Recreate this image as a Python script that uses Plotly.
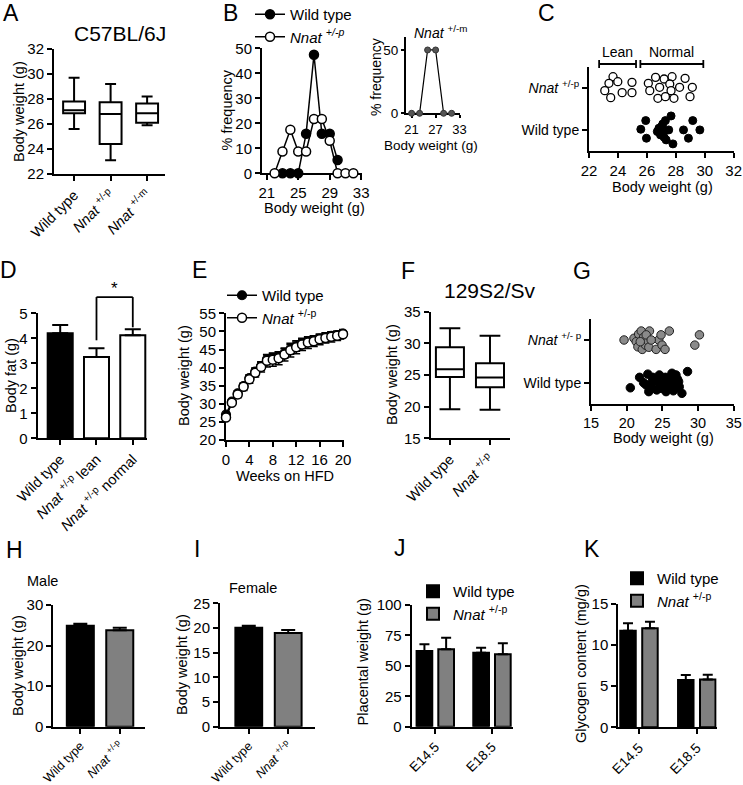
import plotly.graph_objects as go

W, H = 743, 785
FONT = "Arial, Liberation Sans, sans-serif"
NN = "<i>Nnat</i> <sup>+/-p</sup>"

# ---------------- data ----------------
# A: C57BL/6J body weight box plots
a_labels = ["Wild type", NN, "<i>Nnat</i> <sup>+/-m</sup>"]
a_lower = [25.6, 23.1, 25.9]
a_q1 = [26.85, 24.4, 26.1]
a_median = [27.1, 26.8, 26.85]
a_q3 = [27.8, 27.75, 27.65]
a_upper = [29.7, 29.2, 28.2]

# B: frequency distributions
b_bins_wt = [23, 24, 25, 26, 27, 28, 29, 30]
b_freq_wt = [0, 0, 0, 15.8, 47.4, 15.8, 15.8, 5.3]
b_bins_pat = [22, 23, 24, 25, 26, 27, 28, 29, 30, 31, 32]
b_freq_pat = [0, 8.7, 17.4, 8.7, 8.7, 21.7, 21.7, 13.0, 0, 0, 0]
b_bins_mat = [21, 23, 25, 27, 29, 31]
b_freq_mat = [0, 0, 50, 50, 0, 0]

# C: individual body weights (x) with jitter rows (y)
c_pat_w = [23.66, 23.38, 23.99, 24.97, 23.09, 24.29, 24.97, 23.50,
           26.10, 26.60, 27.19, 27.74, 28.64, 27.58, 26.20, 26.88, 27.67,
           28.26, 29.14, 26.76, 27.28, 27.87, 28.98]
c_pat_row = [1.28, 1.12, 1.16, 1.144, 0.944, 0.896, 0.896, 0.776,
             1.12, 1.264, 1.224, 1.28, 1.24, 1.104, 0.944, 1.024, 0.944,
             1.024, 1.024, 0.76, 0.80, 0.76, 0.80]
c_wt_w = [25.92, 25.58, 25.97, 27.67, 27.28, 27.10, 26.83, 26.72, 26.94, 27.19,
          27.51, 27.33, 27.80, 28.53, 28.87, 29.17, 29.66, 27.01, 27.10]
c_wt_row = [0.224, 0.016, -0.2, 0.336, 0.224, 0.144, 0.04, -0.04, -0.12, -0.176,
            0.0, -0.24, -0.336, 0.0, -0.2, 0.224, 0.0, 0.08, -0.08]
c_lean_range = [22.7, 25.25]
c_normal_range = [25.55, 29.9]

# D: body fat
d_labels = ["Wild type", NN + " lean", NN + " normal"]
d_mean = [4.2, 3.25, 4.12]
d_sem = [0.33, 0.35, 0.24]

# E: weight gain on HFD
e_weeks = list(range(21))
e_wt = [27.0, 30.6, 32.9, 34.9, 37.1, 38.9, 40.4, 42.3, 42.6, 43.0, 43.9,
        45.0, 45.8, 46.6, 47.1, 47.6, 48.0, 48.4, 48.8, 49.0, 49.4]
e_wt_sem = [0.5, 0.6, 0.7, 0.8, 0.9, 1.0, 1.1, 1.2, 1.3, 1.3, 1.3,
            1.3, 1.3, 1.2, 1.2, 1.2, 1.1, 1.1, 1.1, 1.0, 1.0]
e_pat = [26.2, 30.3, 32.6, 34.7, 36.8, 38.6, 40.2, 41.9, 42.2, 42.6, 43.6,
         44.8, 45.6, 46.4, 46.9, 47.3, 47.8, 48.2, 48.5, 48.8, 49.2]
e_pat_sem = [0.6, 0.7, 0.9, 1.0, 1.1, 1.2, 1.4, 1.7, 1.8, 1.8, 1.8,
             1.9, 1.8, 1.7, 1.6, 1.5, 1.5, 1.4, 1.4, 1.3, 1.3]

# F: 129S2/Sv box plots
f_labels = ["Wild type", NN]
f_lower = [19.6, 19.5]
f_q1 = [24.7, 23.05]
f_median = [25.9, 24.6]
f_q3 = [29.4, 26.85]
f_upper = [32.4, 31.2]

# G: individual weights, 129S2/Sv
g_pat_w = [19.63, 21.02, 21.34, 21.57, 21.67, 22.04, 22.18, 22.36, 22.64, 22.96,
           23.10, 23.19, 21.90, 24.12, 24.49, 24.81, 24.95, 25.37, 25.97, 29.54,
           30.19, 22.73, 23.43]
g_pat_row = [1.0, 1.04, 0.96, 0.84, 1.14, 1.21, 0.78, 1.06, 0.88, 0.98,
             0.83, 1.21, 0.96, 0.78, 1.0, 1.12, 0.88, 0.78, 1.21, 0.88,
             1.12, 1.12, 1.0]
g_wt_w = [20.51, 21.81, 22.36, 22.96, 23.10, 22.73, 23.43, 23.89, 24.21, 24.58,
          25.05, 25.42, 25.74, 25.97, 26.20, 26.53, 26.67, 26.90, 27.13, 27.36,
          27.73, 28.52, 23.56, 24.49, 25.51, 26.34, 26.81, 27.27, 23.66, 24.81]
g_wt_row = [-0.12, 0.125, 0.0, 0.2, -0.21, -0.055, -0.094, 0.078, -0.17, 0.18,
            -0.03, 0.125, -0.094, 0.023, 0.14, -0.19, -0.03, 0.18, 0.078, -0.094,
            -0.25, 0.26, 0.023, 0.0, -0.21, 0.22, -0.13, 0.023, 0.125, -0.13]

# H / I: adult body weight
hi_labels = ["Wild type", NN]
h_mean = [24.9, 23.8]
h_sem = [0.5, 0.6]
i_mean = [20.05, 19.0]
i_sem = [0.4, 0.6]

# J / K: placenta
jk_labels = ["E14.5", "E18.5"]
j_wt = [62.2, 60.8]
j_wt_sem = [5.5, 4.1]
j_pat = [63.6, 59.5]
j_pat_sem = [9.5, 9.0]
k_wt = [11.75, 5.75]
k_wt_sem = [0.9, 0.6]
k_pat = [12.05, 5.8]
k_pat_sem = [0.8, 0.6]

# ---------------- layout geometry (pixels) ----------------
P = {
    'A':  dict(i=1,  x0=54,    x1=165,   y0=49,    y1=174,   xr=[-0.55, 2.49],  yr=[22, 32]),
    'B':  dict(i=2,  x0=262,   x1=362,   y0=48.3,  y1=173.3, xr=[20.4, 33.1],   yr=[0, 50]),
    'Bi': dict(i=3,  x0=406,   x1=460,   y0=37.3,  y1=113.3, xr=[19.6, 33.1],   yr=[0, 60]),
    'C':  dict(i=4,  x0=589,   x1=734,   y0=66.7,  y1=150.7, xr=[22, 32.02],    yr=[-0.5, 1.52]),
    'D':  dict(i=5,  x0=37.7,  x1=147.3, y0=313.3, y1=438.3, xr=[-0.62, 2.4],   yr=[0, 5]),
    'E':  dict(i=6,  x0=226,   x1=344,   y0=313.3, y1=440,   xr=[0, 20.17],     yr=[20, 55]),
    'F':  dict(i=7,  x0=430.7, x1=510,   y0=311.7, y1=438.3, xr=[-0.48, 1.5],   yr=[15, 35]),
    'G':  dict(i=8,  x0=591,   x1=734,   y0=319.3, y1=404,   xr=[15, 35.03],    yr=[-0.5, 1.485]),
    'H':  dict(i=9,  x0=53.3,  x1=145,   y0=605,   y1=726.7, xr=[-0.685, 1.64], yr=[0, 30]),
    'I':  dict(i=10, x0=220,   x1=315,   y0=603.3, y1=726.7, xr=[-0.73, 1.68],  yr=[0, 25]),
    'J':  dict(i=11, x0=411.7, x1=513.3, y0=605,   y1=726.7, xr=[-0.416, 1.376], yr=[0, 100]),
    'K':  dict(i=12, x0=618.3, x1=716.7, y0=604,   y1=727.3, xr=[-0.358, 1.345], yr=[0, 15]),
}


def refs(k):
    i = P[k]['i']
    s = '' if i == 1 else str(i)
    return 'xaxis' + s, 'yaxis' + s, 'x' + s, 'y' + s


def dx(k, v):
    p = P[k]
    r = p['xr']
    return p['x0'] + (v - r[0]) / (r[1] - r[0]) * (p['x1'] - p['x0'])


def dy(k, v):
    p = P[k]
    r = p['yr']
    return p['y1'] - (v - r[0]) / (r[1] - r[0]) * (p['y1'] - p['y0'])


def tf(size):
    return dict(family=FONT, size=size, color='black')


AX = dict(showline=True, linecolor='black', linewidth=2, ticks='outside', ticklen=5,
          tickwidth=2, tickcolor='black', showgrid=False, zeroline=False, automargin=False,
          ticklabeloverflow='allow', tickfont=tf(15))

cat3 = dict(tickmode='array', tickvals=[0, 1, 2], tickangle=-45)
cat2 = dict(tickmode='array', tickvals=[0, 1], tickangle=-45)
xkw = {
    'A': dict(cat3, ticktext=a_labels, tickfont=tf(14.5)),
    'B': dict(tickmode='array', tickvals=[21, 25, 29, 33], layer='below traces'),
    'Bi': dict(tickmode='array', tickvals=[21, 27, 33], layer='below traces',
               ticklen=3, tickfont=tf(13)),
    'C': dict(dtick=2, tick0=22),
    'D': dict(cat3, ticktext=d_labels, tickfont=tf(14.5)),
    'E': dict(dtick=4, tick0=0, layer='below traces'),
    'F': dict(cat2, ticktext=f_labels, tickfont=tf(14.5)),
    'G': dict(dtick=5, tick0=15, tickfont=tf(14.5)),
    'H': dict(cat2, ticktext=hi_labels, tickfont=tf(12.5)),
    'I': dict(cat2, ticktext=hi_labels, tickfont=tf(12.5)),
    'J': dict(cat2, ticktext=jk_labels, tickfont=tf(13.5)),
    'K': dict(cat2, ticktext=jk_labels, tickfont=tf(14)),
}
ykw = {
    'A': dict(dtick=2, tick0=22),
    'B': dict(dtick=10, tick0=0, layer='below traces'),
    'Bi': dict(tickmode='array', tickvals=[0, 50], layer='below traces',
               ticklen=3, tickfont=tf(13.5)),
    'C': dict(tickmode='array', tickvals=[0, 1], ticktext=['Wild type', NN], tickfont=tf(14)),
    'D': dict(dtick=1, tick0=0),
    'E': dict(dtick=5, tick0=20, layer='below traces'),
    'F': dict(dtick=5, tick0=15),
    'G': dict(tickmode='array', tickvals=[0, 1],
              ticktext=['Wild type', '<i>Nnat</i> <sup>+/- p</sup>'], tickfont=tf(14)),
    'H': dict(dtick=10, tick0=0),
    'I': dict(dtick=5, tick0=0),
    'J': dict(dtick=25, tick0=0),
    'K': dict(dtick=5, tick0=0),
}

layout = dict(width=W, height=H, margin=dict(l=0, r=0, t=0, b=0, pad=0, autoexpand=False),
              autosize=False, paper_bgcolor='white', plot_bgcolor='white', barmode='overlay',
              font=dict(family=FONT, size=15, color='black'))
for k, p in P.items():
    xa, ya, xr, yr = refs(k)
    layout[xa] = {**AX, **xkw[k], 'domain': [p['x0'] / W, p['x1'] / W],
                  'range': p['xr'], 'anchor': yr}
    layout[ya] = {**AX, **ykw[k], 'domain': [1 - p['y1'] / H, 1 - p['y0'] / H],
                  'range': p['yr'], 'anchor': xr}

fig = go.Figure()


def on(k):
    _, _, xr, yr = refs(k)
    return dict(xaxis=xr, yaxis=yr)


BLK = dict(color='black', width=2)

# A boxes
fig.add_trace(go.Box(x=[0, 1, 2], q1=a_q1, median=a_median, q3=a_q3,
                     lowerfence=a_lower, upperfence=a_upper, width=0.6, whiskerwidth=0.5,
                     fillcolor='white', line=BLK, boxpoints=False, showlegend=False,
                     hoverinfo='skip', **on('A')))

# B histograms
fig.add_trace(go.Scatter(x=b_bins_wt, y=b_freq_wt, mode='lines+markers', name='Wild type',
                         line=dict(color='black', width=1.5),
                         marker=dict(size=9, color='black', line=dict(color='black', width=1.5)),
                         cliponaxis=False, legend='legend', **on('B')))
fig.add_trace(go.Scatter(x=b_bins_pat, y=b_freq_pat, mode='lines+markers',
                         name='<i>Nnat</i> <sup><i>+/-p</i></sup>',
                         line=dict(color='black', width=1.5),
                         marker=dict(size=9, color='white', line=dict(color='black', width=1.5)),
                         cliponaxis=False, legend='legend', **on('B')))
fig.add_trace(go.Scatter(x=b_bins_mat, y=b_freq_mat, mode='lines+markers', showlegend=False,
                         line=dict(color='black', width=1.2),
                         marker=dict(size=6, color='#555555', line=dict(color='#333333', width=1)),
                         cliponaxis=False, **on('Bi')))

# C dot plot
fig.add_trace(go.Scatter(x=c_pat_w, y=c_pat_row, mode='markers', showlegend=False,
                         marker=dict(size=8, color='white', line=dict(color='black', width=1.3)),
                         cliponaxis=False, **on('C')))
fig.add_trace(go.Scatter(x=c_wt_w, y=c_wt_row, mode='markers', showlegend=False,
                         marker=dict(size=8, color='black', line=dict(color='black', width=1)),
                         cliponaxis=False, **on('C')))

# D bars
fig.add_trace(go.Bar(x=[0, 1, 2], y=d_mean, width=0.69,
                     marker=dict(color=['black', 'white', 'white'], line=BLK),
                     error_y=dict(type='data', array=d_sem, arrayminus=[0, 0, 0], symmetric=False,
                                  color='black', thickness=2, width=8),
                     showlegend=False, **on('D')))

# E growth curves
fig.add_trace(go.Scatter(x=e_weeks, y=e_wt, mode='lines+markers', name='Wild type',
                         line=dict(color='black', width=1.5),
                         marker=dict(size=9, color='black', line=dict(color='black', width=1.2)),
                         error_y=dict(type='data', array=e_wt_sem, color='black', thickness=1.5, width=4),
                         cliponaxis=False, legend='legend2', **on('E')))
fig.add_trace(go.Scatter(x=e_weeks, y=e_pat, mode='lines+markers', name='<i>Nnat</i> <sup>+/-p</sup>',
                         line=dict(color='black', width=1.5),
                         marker=dict(size=9, color='white', line=dict(color='black', width=1.5)),
                         error_y=dict(type='data', array=e_pat_sem, color='black', thickness=1.5, width=4),
                         cliponaxis=False, legend='legend2', **on('E')))

# F boxes
fig.add_trace(go.Box(x=[0, 1], q1=f_q1, median=f_median, q3=f_q3,
                     lowerfence=f_lower, upperfence=f_upper, width=0.7, whiskerwidth=0.74,
                     fillcolor='white', line=BLK, boxpoints=False, showlegend=False,
                     hoverinfo='skip', **on('F')))

# G dot plot
fig.add_trace(go.Scatter(x=g_pat_w, y=g_pat_row, mode='markers', showlegend=False,
                         marker=dict(size=8.5, color='#8a8a8a', line=dict(color='#222222', width=1)),
                         cliponaxis=False, **on('G')))
fig.add_trace(go.Scatter(x=g_wt_w, y=g_wt_row, mode='markers', showlegend=False,
                         marker=dict(size=8.5, color='black', line=dict(color='black', width=1)),
                         cliponaxis=False, **on('G')))

# H / I bars
for k, mean, sem, w in (('H', h_mean, h_sem, 0.685), ('I', i_mean, i_sem, 0.68)):
    fig.add_trace(go.Bar(x=[0, 1], y=mean, width=w,
                         marker=dict(color=['black', '#808080'], line=BLK),
                         error_y=dict(type='data', array=sem, arrayminus=[0, 0], symmetric=False,
                                      color='black', thickness=2, width=7),
                         showlegend=False, **on(k)))

# J / K grouped bars
for k, wt, wts, pat, pats, bw, off, lg in (
        ('J', j_wt, j_wt_sem, j_pat, j_pat_sem, 0.277, 0.1915, 'legend3'),
        ('K', k_wt, k_wt_sem, k_pat, k_pat_sem, 0.268, 0.19, 'legend4')):
    fig.add_trace(go.Bar(x=[0, 1], y=wt, width=bw, offset=-off - bw / 2, name='Wild type',
                         marker=dict(color='black', line=BLK),
                         error_y=dict(type='data', array=wts, arrayminus=[0, 0], symmetric=False,
                                      color='black', thickness=2, width=5),
                         legend=lg, **on(k)))
    fig.add_trace(go.Bar(x=[0, 1], y=pat, width=bw, offset=off - bw / 2,
                         name='<i>Nnat</i> <sup>+/-p</sup>',
                         marker=dict(color='#808080', line=BLK),
                         error_y=dict(type='data', array=pats, arrayminus=[0, 0], symmetric=False,
                                      color='black', thickness=2, width=5),
                         legend=lg, **on(k)))


def legend_at(xpx, ypx):
    return dict(x=xpx / W, y=1 - ypx / H, xanchor='left', yanchor='top',
                bgcolor='rgba(0,0,0,0)', font=tf(15),
                tracegroupgap=0, itemclick=False, itemdoubleclick=False)


layout['legend'] = legend_at(250, -2)
layout['legend2'] = legend_at(222, 279)
layout['legend3'] = legend_at(413, 575)
layout['legend4'] = legend_at(617, 562)


def ann(text, x, y, size=15, angle=0, xa='center', ya='middle'):
    return dict(text=text, x=x / W, y=1 - y / H, xref='paper', yref='paper', showarrow=False,
                font=tf(size), textangle=angle, xanchor=xa, yanchor=ya)


anns = []
# panel letters
for t, x, y in (('A', 11, 13), ('B', 230, 13.5), ('C', 546, 13), ('D', 8, 270),
                ('E', 199.5, 270), ('F', 407.5, 271), ('G', 582, 271), ('H', 14.5, 550),
                ('I', 197, 549), ('J', 400, 548), ('K', 592, 549)):
    anns.append(ann(t, x, y, size=23))
# titles
anns.append(ann('C57BL/6J', 120, 33.5, size=21))
anns.append(ann('129S2/Sv', 490, 291, size=21))
anns.append(ann('<i>Nnat</i> <sup>+/-m</sup>', 441, 32, size=14))
anns.append(ann('Male', 42, 581, size=14.5))
anns.append(ann('Female', 253, 588, size=14.5))
# axis titles
BW = 'Body weight (g)'
for t, x, y, ang, s in ((BW, 19, 112, -90, 14.5), ('% frequency', 226.5, 110, -90, 14.5),
                        ('% frequency', 376, 77, -90, 14), ('Body fat (g)', 11, 376, -90, 14.5),
                        (BW, 184, 376, -90, 14.5), (BW, 392, 375, -90, 14.5),
                        (BW, 18, 666, -90, 14.5), (BW, 182, 665, -90, 14.5),
                        ('Placental weight (g)', 362.5, 662, -90, 14.5),
                        ('Glycogen content (mg/g)', 581, 664, -90, 14.5),
                        (BW, 314, 208, 0, 14.5), (BW, 431, 145.5, 0, 13.5), (BW, 662, 187, 0, 14.5),
                        ('Weeks on HFD', 285, 476, 0, 14.5), (BW, 663, 438, 0, 14.5)):
    anns.append(ann(t, x, y, size=s, angle=ang))
# Lean / Normal labels
anns.append(ann('Lean', dx('C', sum(c_lean_range) / 2), 52, size=14))
anns.append(ann('Normal', dx('C', sum(c_normal_range) / 2), 52, size=14))
anns.append(ann('*', dx('D', 1.5), 289, size=17))
layout['annotations'] = anns

shapes = []
LN = dict(color='black', width=1.8)


def seg(x0, y0, x1, y1):
    return dict(type='line', xref='paper', yref='paper', x0=x0 / W, x1=x1 / W,
                y0=1 - y0 / H, y1=1 - y1 / H, line=LN)


for rng in (c_lean_range, c_normal_range):
    xa_, xb_ = dx('C', rng[0]), dx('C', rng[1])
    shapes.append(seg(xa_, 64, xb_, 64))
    shapes.append(seg(xa_, 60, xa_, 68))
    shapes.append(seg(xb_, 60, xb_, 68))

# significance bracket D (lean vs normal)
yl = dy('D', d_mean[1] + d_sem[1]) - 8
yr_ = dy('D', d_mean[2] + d_sem[2]) - 2
ytop = dy('D', 5.65)
shapes.append(seg(dx('D', 1), yl, dx('D', 1), ytop))
shapes.append(seg(dx('D', 1), ytop, dx('D', 2), ytop))
shapes.append(seg(dx('D', 2), ytop, dx('D', 2), yr_))
layout['shapes'] = shapes

fig.update_layout(**layout)
fig.write_html("out.html", config={'displayModeBar': False},
               post_script="document.body.style.margin='0px';")
